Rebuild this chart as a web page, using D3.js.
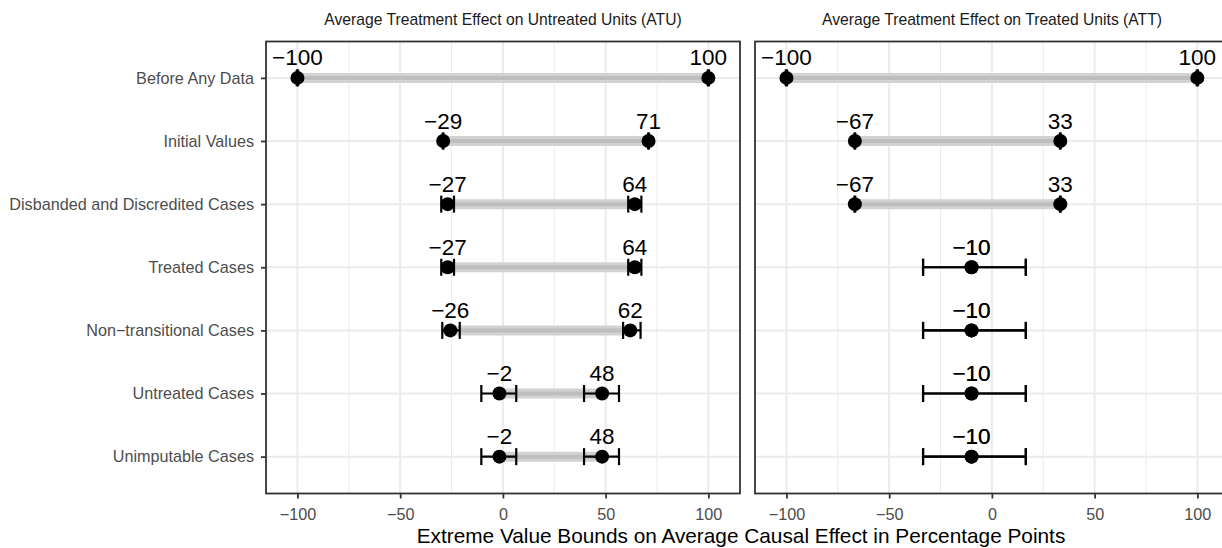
<!DOCTYPE html>
<html>
<head>
<meta charset="utf-8">
<script src="https://cdn.jsdelivr.net/npm/d3@7"></script>
<style>
  html, body { margin: 0; padding: 0; background: #fff; }
  svg { display: block; font-family: "Liberation Sans", Arial, Helvetica, sans-serif; }
</style>
</head>
<body>
<svg id="chart" width="1222" height="548"></svg>
<script>
// ---------------- DATA ----------------
const categories = ["Before Any Data", "Initial Values", "Disbanded and Discredited Cases",
  "Treated Cases", "Non\u2212transitional Cases", "Untreated Cases", "Unimputable Cases"];
const panelTitles = ["Average Treatment Effect on Untreated Units (ATU)",
  "Average Treatment Effect on Treated Units (ATT)"];
const xTicks = [-100, -50, 0, 50, 100];
const xMinorTicks = [-75, -25, 25, 75];
const xTitle = "Extreme Value Bounds on Average Causal Effect in Percentage Points";

// ATU panel
const atuLower   = [-100, -29.1, -26.9, -26.9, -25.6, -1.7, -1.7];
const atuLowerLo = [-100.3, -29.3, -30.0, -30.0, -29.5, -10.5, -10.5];
const atuLowerHi = [-99.7, -28.9, -23.8, -23.8, -21.0, 6.5, 6.5];
const atuUpper   = [100, 70.9, 64.2, 64.2, 62.0, 48.3, 48.3];
const atuUpperLo = [99.7, 70.7, 61.0, 61.0, 58.5, 39.5, 39.5];
const atuUpperHi = [100.3, 71.1, 67.4, 67.4, 67.0, 56.5, 56.5];

// ATT panel
const attLower   = [-100, -66.7, -66.7, -9.9, -9.9, -9.9, -9.9];
const attLowerLo = [-100.3, -66.9, -66.9, -33.5, -33.5, -33.5, -33.5];
const attLowerHi = [-99.7, -66.5, -66.5, 16.5, 16.5, 16.5, 16.5];
const attUpper   = [100, 33.3, 33.3, -9.9, -9.9, -9.9, -9.9];
const attUpperLo = [99.7, 33.1, 33.1, -33.5, -33.5, -33.5, -33.5];
const attUpperHi = [100.3, 33.5, 33.5, 16.5, 16.5, 16.5, 16.5];

const panels = [
  {title: panelTitles[0], lower: atuLower, lowerLo: atuLowerLo, lowerHi: atuLowerHi,
   upper: atuUpper, upperLo: atuUpperLo, upperHi: atuUpperHi},
  {title: panelTitles[1], lower: attLower, lowerLo: attLowerLo, lowerHi: attLowerHi,
   upper: attUpper, upperLo: attUpperLo, upperHi: attUpperHi}
];

// ---------------- LAYOUT ----------------
const svg = d3.select("#chart");
const panelW = 474, panelTop = 41.5, panelBottom = 493.5;
const panelLefts = [266, 755];
const y = d3.scalePoint().domain(categories).range([40, 494.5]).padding(0.6);
const fmt = v => d3.format("d")(Math.round(v));

panels.forEach((p, pi) => {
  const left = panelLefts[pi];
  const x = d3.scaleLinear().domain([-115.3, 115.4]).range([left, left + panelW]);
  const g = svg.append("g");

  g.append("rect").attr("x", left).attr("y", panelTop).attr("width", panelW)
    .attr("height", panelBottom - panelTop).attr("fill", "#fff");

  // minor grid
  g.selectAll(".gminor").data(xMinorTicks).join("line")
    .attr("x1", d => x(d)).attr("x2", d => x(d))
    .attr("y1", panelTop).attr("y2", panelBottom)
    .attr("stroke", "#ebebeb").attr("stroke-width", 1);
  // major grid
  g.selectAll(".gmajor").data(xTicks).join("line")
    .attr("x1", d => x(d)).attr("x2", d => x(d))
    .attr("y1", panelTop).attr("y2", panelBottom)
    .attr("stroke", "#ebebeb").attr("stroke-width", 2);
  g.selectAll(".gh").data(categories).join("line")
    .attr("x1", left).attr("x2", left + panelW)
    .attr("y1", d => y(d)).attr("y2", d => y(d))
    .attr("stroke", "#ebebeb").attr("stroke-width", 2);

  // range segments
  const segs = categories.map((c, i) => ({c, a: p.lower[i], b: p.upper[i]}));
  g.selectAll(".segOuter").data(segs).join("line")
    .attr("x1", d => x(d.a)).attr("x2", d => x(d.b))
    .attr("y1", d => y(d.c)).attr("y2", d => y(d.c))
    .attr("stroke", "#d2d2d2").attr("stroke-width", 10);
  g.selectAll(".segInner").data(segs).join("line")
    .attr("x1", d => x(d.a)).attr("x2", d => x(d.b))
    .attr("y1", d => y(d.c)).attr("y2", d => y(d.c))
    .attr("stroke", "#bebebe").attr("stroke-width", 4);

  // error bars
  const bars = [];
  categories.forEach((c, i) => {
    bars.push({c, lo: p.lowerLo[i], hi: p.lowerHi[i]});
    bars.push({c, lo: p.upperLo[i], hi: p.upperHi[i]});
  });
  const eb = g.selectAll(".eb").data(bars).join("g");
  eb.append("line").attr("x1", d => x(d.lo)).attr("x2", d => x(d.hi))
    .attr("y1", d => y(d.c)).attr("y2", d => y(d.c));
  eb.append("line").attr("x1", d => x(d.lo)).attr("x2", d => x(d.lo))
    .attr("y1", d => y(d.c) - 8.5).attr("y2", d => y(d.c) + 8.5);
  eb.append("line").attr("x1", d => x(d.hi)).attr("x2", d => x(d.hi))
    .attr("y1", d => y(d.c) - 8.5).attr("y2", d => y(d.c) + 8.5);
  eb.selectAll("line").attr("stroke", "#000").attr("stroke-width", 2.2);

  // points
  const pts = [];
  categories.forEach((c, i) => {
    pts.push({c, v: p.lower[i]});
    pts.push({c, v: p.upper[i]});
  });
  g.selectAll(".pt").data(pts).join("circle")
    .attr("cx", d => x(d.v)).attr("cy", d => y(d.c)).attr("r", 7).attr("fill", "#000");

  // labels
  g.selectAll(".lbl").data(pts).join("text")
    .attr("x", d => x(d.v)).attr("y", d => y(d.c) - 12.5)
    .attr("text-anchor", "middle").attr("font-size", 22.5).attr("fill", "#000")
    .text(d => fmt(d.v));

  // border
  g.append("rect").attr("x", left).attr("y", panelTop).attr("width", panelW)
    .attr("height", panelBottom - panelTop).attr("fill", "none")
    .attr("stroke", "#333").attr("stroke-width", 1.8);

  // strip title
  g.append("text").attr("x", left + panelW / 2).attr("y", 24.5)
    .attr("text-anchor", "middle").attr("font-size", 15.7).attr("fill", "#1a1a1a")
    .text(p.title);

  // x axis
  const xa = g.append("g").attr("transform", `translate(0,${panelBottom})`)
    .call(d3.axisBottom(x).tickValues(xTicks).tickSize(5).tickFormat(d3.format("d")));
  xa.select(".domain").remove();
  xa.selectAll(".tick line").attr("stroke", "#333").attr("stroke-width", 1.8);
  xa.selectAll(".tick text").attr("y", 26.5).attr("dy", 0)
    .attr("font-size", 16.2).attr("fill", "#4d4d4d").attr("font-family", null);

  // y axis (left panel only)
  if (pi === 0) {
    const ya = g.append("g").attr("transform", `translate(${left},0)`)
      .call(d3.axisLeft(y).tickSize(5).tickPadding(7));
    ya.select(".domain").remove();
    ya.selectAll(".tick line").attr("stroke", "#333").attr("stroke-width", 1.8);
    ya.selectAll(".tick text").attr("font-size", 16.2).attr("fill", "#4d4d4d")
      .attr("font-family", null);
  }
});

// x axis title
svg.append("text").attr("x", 741).attr("y", 543).attr("text-anchor", "middle")
  .attr("font-size", 20.8).attr("fill", "#000").text(xTitle);
</script>
</body>
</html>
